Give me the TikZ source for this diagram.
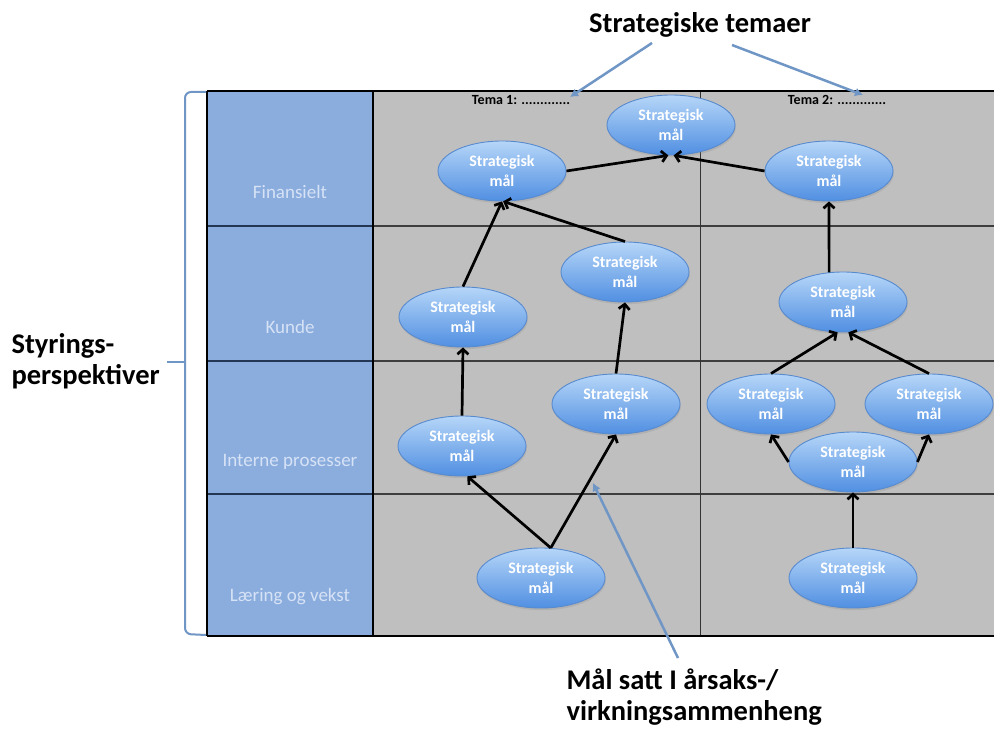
\documentclass[tikz,border=0pt]{standalone}
\usepackage{fontspec}
\setmainfont{Carlito}
\usetikzlibrary{arrows.meta,shapes.geometric,shadows}

\definecolor{colblue}{RGB}{139,173,222}
\definecolor{cellgray}{RGB}{192,191,191}
\definecolor{gridline}{RGB}{62,62,62}
\definecolor{navyline}{RGB}{35,55,85}
\definecolor{notecol}{RGB}{112,150,198}
\definecolor{goaltop}{RGB}{182,214,248}
\definecolor{goalbot}{RGB}{80,143,226}
\definecolor{goaledge}{RGB}{88,138,206}
\definecolor{rowtext}{RGB}{214,226,245}

\tikzset{
  goal/.style={ellipse, minimum width=128pt, minimum height=60pt, inner sep=0pt,
    draw=goaledge, line width=0.9pt, top color=goaltop, bottom color=goalbot,
    drop shadow={opacity=0.22, shadow xshift=0.8pt, shadow yshift=-2.2pt},
    text=white, align=center, font=\fontsize{16}{20}\selectfont\bfseries},
  cause/.style={black, line width=2.7pt, -{Straight Barb[length=5pt,width=11pt]}},
  note/.style={notecol, line width=2.5pt, -{Latex[length=8pt,width=9pt]}},
  rowlabel/.style={text=rowtext, font=\fontsize{19}{22}\selectfont},
  bigtext/.style={text=black, font=\fontsize{28.5}{31}\selectfont\bfseries, align=left},
  temalabel/.style={text=black, font=\fontsize{14}{16}\selectfont\bfseries}
}

\begin{document}
\begin{tikzpicture}[x=1pt,y=-1pt]
\useasboundingbox (0,0) rectangle (994,733);
\fill[white] (0,0) rectangle (994,733);

% table body
\fill[colblue] (207,91) rectangle (373,636);
\fill[cellgray] (373,91) rectangle (994,636);
\foreach \yy in {226,361,494}{
  \draw[navyline, line width=1.5pt] (207,\yy) -- (373,\yy);
  \draw[gridline, line width=1.5pt] (373,\yy) -- (994,\yy);
}
\draw[black, line width=1.2pt] (207,91) -- (207,636);
\draw[black, line width=1.2pt] (373,91) -- (373,636);
\draw[black!80, line width=1pt] (700,91) -- (700,636);
\draw[black, line width=1.5pt] (207,91) -- (994,91);
\draw[black, line width=1.5pt] (207,636) -- (994,636);

% perspective names
\node[rowlabel] (rfin) at (290,192) {Finansielt};
\node[rowlabel] (rkun) at (290,327) {Kunde};
\node[rowlabel] (rint) at (290,462) {Interne prosesser};
\node[rowlabel] (rlae) at (290,597) {Læring og vekst};

% theme headers
\node[temalabel] (tema1) at (521,100) {Tema 1: .............};
\node[temalabel] (tema2) at (837,100) {Tema 2: .............};

% brace around the perspectives
\draw[notecol, line width=2pt, rounded corners=6pt] (206,92) -- (185,92) -- (185,634) -- (206,635);
\draw[notecol, line width=2pt] (185,362) -- (167,362);

% strategic goals
\node[goal] (top) at (671,125) {Strategisk\\mål};
\node[goal] (fl)  at (502,171) {Strategisk\\mål};
\node[goal] (fr)  at (829,171) {Strategisk\\mål};
\node[goal] (kl)  at (463,317) {Strategisk\\mål};
\node[goal] (kr)  at (625,272) {Strategisk\\mål};
\node[goal] (kt)  at (843,302) {Strategisk\\mål};
\node[goal] (il)  at (462,446) {Strategisk\\mål};
\node[goal] (ir)  at (616,404) {Strategisk\\mål};
\node[goal] (jl)  at (771,404) {Strategisk\\mål};
\node[goal] (jr)  at (929,404) {Strategisk\\mål};
\node[goal] (jm)  at (853,462) {Strategisk\\mål};
\node[goal] (ll)  at (541,578) {Strategisk\\mål};
\node[goal] (lr)  at (853,578) {Strategisk\\mål};

% cause-and-effect links, theme 1
\draw[cause] (fl.east) -- (top.-95);
\draw[cause] (fr.west) -- (top.-85);
\draw[cause] (kl.north) -- (fl.south);
\draw[cause] (kr.north) -- (fl.-88);
\draw[cause] (il.north) -- (kl.south);
\draw[cause] (ir.north) -- (kr.south);
\draw[cause] (ll.72) -- (il.-80);
\draw[cause] (ll.72) -- (ir.south);

% cause-and-effect links, theme 2
\draw[cause] (kt.115) -- (fr.south);
\draw[cause] (jl.north) -- (kt.-100);
\draw[cause] (jr.north) -- (kt.-80);
\draw[cause] (jm.west) -- (jl.south);
\draw[cause] (jm.east) -- (jr.south);
\draw[cause] (lr.north) -- (jm.south);

% annotations
\node[bigtext] (title) at (700,25) {Strategiske temaer};
\node[bigtext, anchor=west] (persp) at (8,361) {Styrings-\\perspektiver};
\node[bigtext, anchor=west] (links) at (563,697) {Mål satt I årsaks-/\\virkningsammenheng};

\coordinate (tl) at (652,43);
\coordinate (tlend) at (570,97);
\coordinate (tr) at (732,45);
\coordinate (trend) at (863,95);
\coordinate (ls) at (678,658);
\coordinate (lsend) at (593,483);
\draw[note] (tl) -- (tlend);
\draw[note] (tr) -- (trend);
\draw[note] (ls) -- (lsend);
\end{tikzpicture}
\end{document}
